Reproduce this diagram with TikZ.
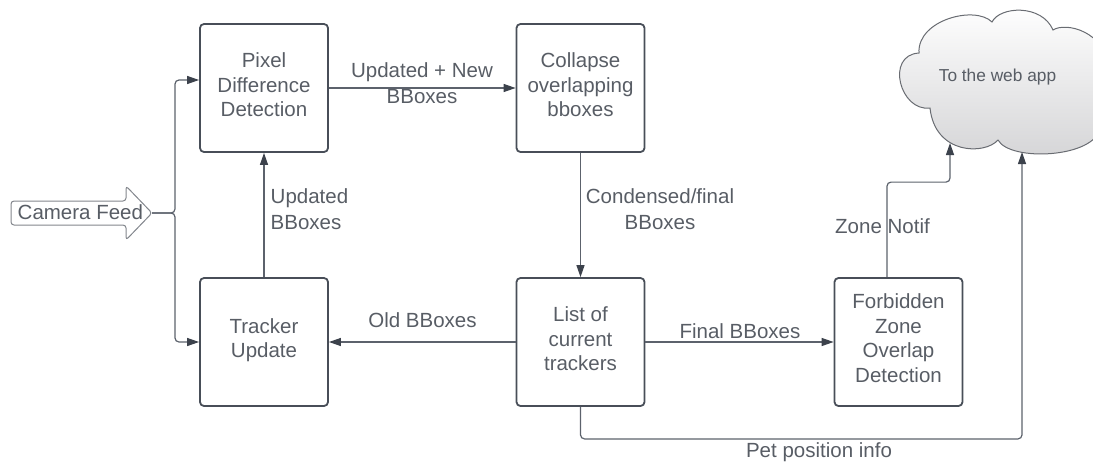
\documentclass[tikz,border=0pt]{standalone}
\usepackage{fontspec}
\setmainfont{Liberation Sans}
\usetikzlibrary{arrows.meta}
\definecolor{txt}{RGB}{88,93,101}
\definecolor{bord}{RGB}{72,78,88}
\definecolor{lin}{RGB}{92,98,108}
\definecolor{headc}{RGB}{60,66,76}
\definecolor{cfbord}{RGB}{130,134,140}
\definecolor{cloudb}{RGB}{105,108,114}
\definecolor{cloudbot}{RGB}{212,212,214}
\newcommand\padA{\rule[-6pt]{0pt}{0pt}}
\newcommand\padB{\rule[-8pt]{0pt}{0pt}}
\newcommand\padC{\rule[-8.3pt]{0pt}{0pt}}
\begin{document}
\begin{tikzpicture}[x=1pt,y=-1pt,
  every node/.style={text=txt},
  procbox/.style={draw=bord, line width=1.8pt, rounded corners=4pt,
    minimum width=128pt, minimum height=128pt, inner sep=0pt, align=center,
    font=\fontsize{20.5}{24.5}\selectfont},
  conn/.style={draw=lin, line width=1.2pt, rounded corners=4pt,
    -{Triangle[length=12pt,width=8pt,color=headc]}},
  lbl/.style={inner sep=0pt, font=\fontsize{20.5}{26}\selectfont},
]
\useasboundingbox (0,0) rectangle (1093,464);

% cloud
\path[draw=cloudb, line width=1pt, top color=white, bottom color=cloudbot]
  (919,53) .. controls (917,20) and (975,5) .. (992,22)
  .. controls (1000,6) and (1042,4) .. (1053,30)
  .. controls (1065,22) and (1105,30) .. (1110,70)
  .. controls (1125,90) and (1125,115) .. (1100,128)
  .. controls (1095,158) and (1010,162) .. (998,140)
  .. controls (985,155) and (935,155) .. (930,108)
  .. controls (900,112) and (885,55) .. cycle;
\node[inner sep=0pt, anchor=base, font=\fontsize{17.3}{20}\selectfont] (web) at (997.5,81.7) {To the web app};
\coordinate (webA) at (950,143);
\coordinate (webB) at (1022,152);

% camera feed block arrow
\draw[draw=cfbord, line width=1pt, rounded corners=3pt]
  (11,201) -- (126,201) -- (126,186) -- (152,213) -- (126,240) -- (126,225) -- (11,225) -- cycle;
\node[lbl, anchor=base west] (cam) at (17.5,219.3) {Camera Feed};
\coordinate (camtip) at (152,213);
\coordinate (split) at (175,213);

% boxes
\node[procbox] (pix) at (264,88) {Pixel\\Difference\\Detection\padA};
\node[procbox] (col) at (580.5,88) {Collapse\\overlapping\\bboxes\padA};
\node[procbox] (trk) at (264,342) {Tracker\\Update\padC};
\node[procbox] (lst) at (580.5,342) {List of\\current\\trackers\padA};
\node[procbox] (forb) at (898.5,342) {Forbidden\\Zone\\Overlap\\Detection\padB};

% connectors
\draw[conn] (camtip) -- (split) |- (pix.west |- 0,80);
\draw[conn] (camtip) -- (split) |- (trk.west);
\draw[conn] (pix.east) -- (col.west);
\draw[conn] (trk.north) -- (pix.south);
\draw[conn] (col.south) -- (lst.north);
\draw[conn] (lst.west) -- (trk.east);
\draw[conn] (lst.east) -- (forb.west);
\draw[conn] (forb.north) ++(-11.5,0) -- ++(0,-95) -| (webA);
\draw[conn] (lst.south) -- ++(0,32) -| (webB);

% labels
\node[lbl, align=center] (l1) at (422,82.85) {Updated + New\\BBoxes};
\node[lbl, align=left, anchor=west] (l2) at (270.5,209.5) {Updated\\BBoxes};
\node[lbl, align=center] (l3) at (660,209.5) {Condensed/final\\BBoxes};
\node[lbl, anchor=base] (l4) at (422.5,327) {Old BBoxes};
\node[lbl, anchor=base] (l5) at (740,338) {Final BBoxes};
\node[lbl, anchor=base] (l6) at (882.5,233) {Zone Notif};
\node[lbl, anchor=base] (l7) at (819,457) {Pet position info};
\end{tikzpicture}
\end{document}
